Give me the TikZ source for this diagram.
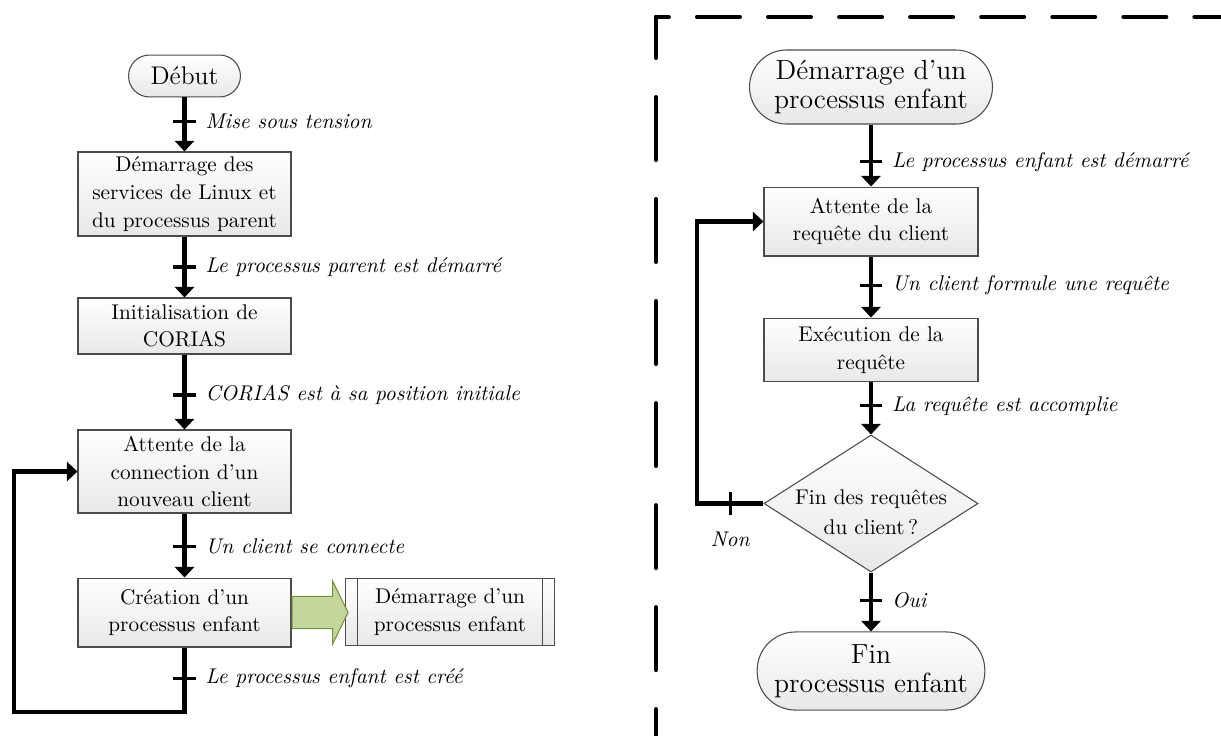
\documentclass[tikz,border=0pt]{standalone}
\usepackage{tikz}
\usetikzlibrary{arrows.meta,shapes.geometric,shapes.arrows,positioning}
\tikzset{>={Triangle[width=9pt,length=5pt]}}
\colorlet{bordgris}{gray!60!black}
\definecolor{vertpale}{RGB}{195,214,155}
\definecolor{vertfonce}{RGB}{118,146,60}
\tikzstyle{boite}=[draw=bordgris,line width=0.5pt,top color=white,bottom color=gray!18,align=center,font=\fontsize{10}{13}\selectfont,inner sep=2pt]
\tikzstyle{terminal}=[boite,font=\fontsize{13}{13.5}\selectfont]
\tikzstyle{losange}=[boite,diamond,inner sep=0pt]
\tikzstyle{sousproc}=[boite,path picture={
    \draw[bordgris,line width=0.5pt]
      ([xshift=5.6pt]path picture bounding box.north west) -- ([xshift=5.6pt]path picture bounding box.south west)
      ([xshift=-5.6pt]path picture bounding box.north east) -- ([xshift=-5.6pt]path picture bounding box.south east);}]
\tikzstyle{grossefleche}=[single arrow,draw=vertfonce,fill=vertpale,line width=0.5pt,inner xsep=0pt,inner ysep=7.3pt,
    minimum height=26.3pt,single arrow head extend=7.2pt,single arrow tip angle=128]
\tikzstyle{flux}=[->,line width=2.2pt]
\tikzstyle{barre}=[fill=black,inner sep=0pt,minimum width=10.5pt,minimum height=1.5pt]
\tikzstyle{barreV}=[barre,minimum width=1.5pt,minimum height=10.5pt]
\tikzstyle{etiq}=[right=5.5pt,font=\itshape]
\tikzstyle{cadre}=[line width=2pt,line cap=round]

\begin{document}
\begin{tikzpicture}[x=0.47pt,y=-0.47pt]
  \useasboundingbox (0,0) rectangle (1221,736);
  % processus parent
  \node[terminal,font=\large,minimum width=52.6pt,minimum height=19.7pt,rounded corners=9.8pt] (debut) at (184.5,76) {Début};
  \node[boite,minimum width=100.1pt,minimum height=39.5pt] (services) at (184.5,194) {Démarrage des\\services de Linux et\\du processus parent};
  \node[boite,minimum width=100.1pt,minimum height=26.3pt] (init) at (184.5,326) {Initialisation de\\CORIAS};
  \node[boite,minimum width=100.1pt,minimum height=39pt] (attente) at (184.5,471.5) {Attente de la\\connection d'un\\nouveau client};
  \node[boite,minimum width=100.1pt,minimum height=32.4pt] (creation) at (184.5,612.5) {Création d'un\\processus enfant};
  \node[sousproc,minimum width=97.8pt,minimum height=31.5pt] (enfant) at (450,612) {Démarrage d'un\\processus enfant};
  \node[grossefleche,anchor=west] (fleche) at (creation.east) {};
  \coordinate (boucleG) at (14,712);

  \draw[flux] (debut) -- (services) node[barre,pos=0.45]{} node[etiq,pos=0.45]{Mise sous tension};
  \draw[flux] (services) -- (init) node[barre,pos=0.5]{} node[etiq,pos=0.5]{Le processus parent est démarré};
  \draw[flux] (init) -- (attente) node[barre,pos=0.54]{} node[etiq,pos=0.54]{CORIAS est à sa position initiale};
  \draw[flux] (attente) -- (creation) node[barre,pos=0.52]{} node[etiq,pos=0.52]{Un client se connecte};
  \draw[flux] (creation.south) |- (boucleG) node[barre,pos=0.24]{} node[etiq,pos=0.24]{Le processus enfant est créé}
    |- (attente.west);

  % processus enfant
  \coordinate (coin) at (656,17);
  \coordinate (coinB) at (656,736);
  \coordinate (coinD) at (1221,17);
  \draw[cadre,dash pattern=on 29.5pt off 18.45pt,dash phase=10.3pt] (coin) -- (coinB);
  \draw[cadre,dash pattern=on 20.1pt off 13.3pt,dash phase=14.1pt] (coin) -- (coinD);

  \node[terminal,minimum width=114.2pt,minimum height=34.8pt,rounded corners=17.4pt] (demarrage) at (871,87) {Démarrage d'un\\processus enfant};
  \node[boite,minimum width=100.6pt,minimum height=32.4pt] (requete) at (871,221.5) {Attente de la\\requête du client};
  \node[boite,minimum width=100.6pt,minimum height=30pt] (execution) at (871,350) {Exécution de la\\requête};
  \node[losange,minimum width=100.6pt,minimum height=64.4pt,
    label={[align=center,font=\fontsize{10}{14}\selectfont,yshift=-4pt]center:Fin des requêtes\\du client\,?}] (decision) at (871,503.5) {};
  \node[terminal,minimum width=107pt,minimum height=36.7pt,rounded corners=18pt] (fin) at (871,671) {Fin\\processus enfant};
  \coordinate (boucleD) at (697,503.5);

  \draw[flux] (demarrage) -- (requete) node[barre,pos=0.6]{} node[etiq,pos=0.6]{Le processus enfant est démarré};
  \draw[flux] (requete) -- (execution) node[barre,pos=0.47]{} node[etiq,pos=0.47]{Un client formule une requête};
  \draw[flux] (execution) -- (decision) node[barre,pos=0.45]{} node[etiq,pos=0.45]{La requête est accomplie};
  \draw[flux] (decision) -- (fin) node[barre,pos=0.47]{} node[etiq,pos=0.47]{Oui};
  \draw[flux] (decision.west) -- (boucleD) node[barreV,midway]{} node[below=9pt,font=\itshape,midway]{Non}
    |- (requete.west);
\end{tikzpicture}
\end{document}
